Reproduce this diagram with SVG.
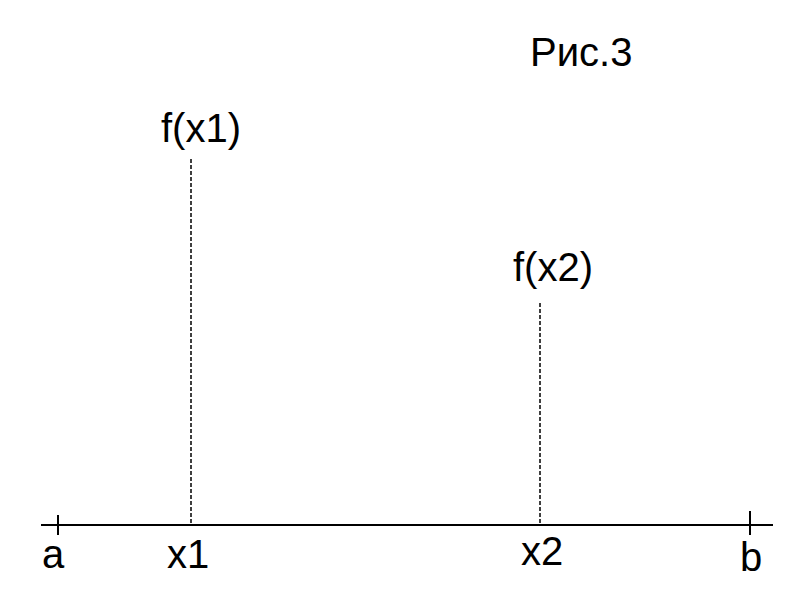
<svg xmlns="http://www.w3.org/2000/svg" width="800" height="600" viewBox="0 0 800 600">
<style>
text{font-family:"Liberation Sans",Arial,sans-serif;font-size:40px;fill:#000}
.axis{stroke:#000;stroke-width:2;fill:none}
.dash{stroke:#000;stroke-width:1.5;stroke-dasharray:4 2;fill:none}
</style>
<rect width="800" height="600" fill="#fff"/>
<g id="connectors">
<line class="axis" x1="41" y1="525" x2="773" y2="525"/>
<line class="axis" x1="58" y1="515" x2="58" y2="535"/>
<line class="axis" x1="750" y1="511" x2="750" y2="535"/>
<line class="dash" x1="191" y1="159" x2="191" y2="524"/>
<line class="dash" x1="540" y1="303" x2="540" y2="524"/>
</g>
<g id="title"><text x="530" y="66">Рис.3</text></g>
<g id="a"><text x="42" y="568">a</text></g>
<g id="b"><text x="740" y="571">b</text></g>
<g id="x1"><text x="167" y="568">x1</text></g>
<g id="x2"><text x="521" y="565">x2</text></g>
<g id="fx1"><text x="161" y="142">f(x1)</text></g>
<g id="fx2"><text x="513" y="281">f(x2)</text></g>
</svg>
